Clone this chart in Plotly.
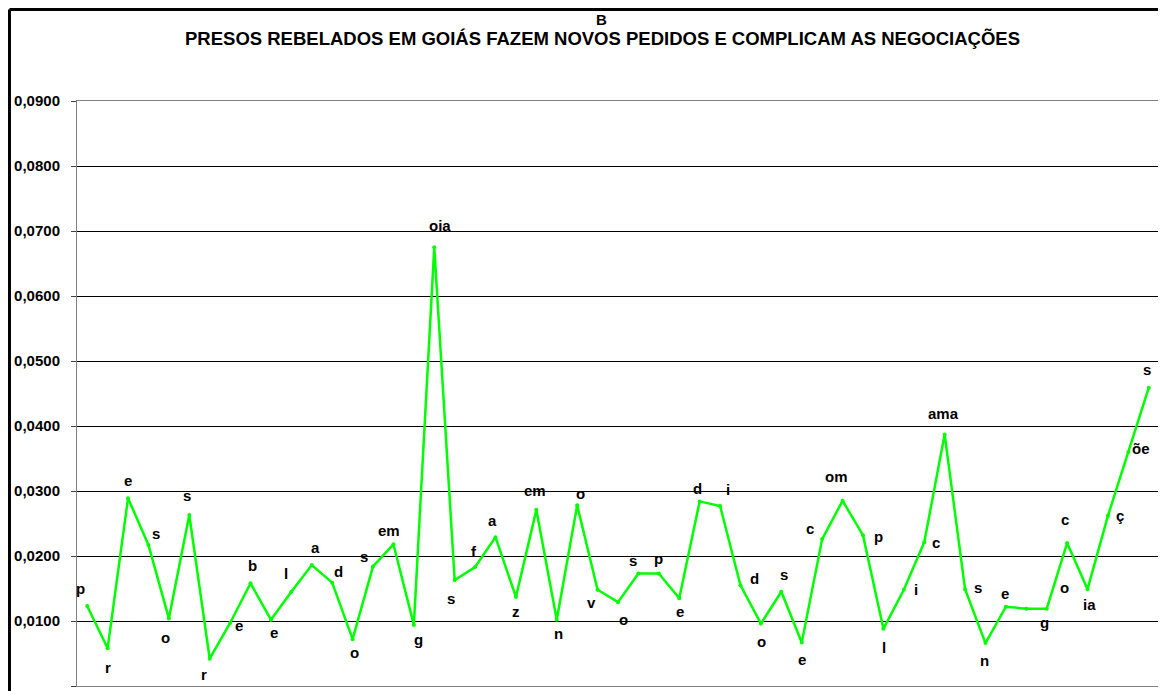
import plotly.graph_objects as go

# ---- data ----
labels = ["p", "r", "e", "s", "o", "s", "r", "e", "b", "e",
          "l", "a", "d", "o", "s", "em", "g", "oia", "s", "f",
          "a", "z", "em", "n", "o", "v", "o", "s", "p", "e",
          "d", "i", "d", "o", "s", "e", "c", "om", "p", "l",
          "i", "c", "ama", "s", "n", "e", "g", "o", "c", "ia",
          "ç", "õe", "s"]
values = [0.0123, 0.0058, 0.0289, 0.0217, 0.0104, 0.0263, 0.0042, 0.0097, 0.0158, 0.0102,
          0.0145, 0.0186, 0.0159, 0.0072, 0.0184, 0.0218, 0.0094, 0.0675, 0.0163, 0.0183,
          0.0229, 0.0137, 0.0271, 0.0102, 0.0278, 0.0148, 0.0129, 0.0173, 0.0173, 0.0135,
          0.0284, 0.0277, 0.0155, 0.0096, 0.0145, 0.0067, 0.0226, 0.0285, 0.0232, 0.0088,
          0.0148, 0.0221, 0.0387, 0.0149, 0.0066, 0.0122, 0.0119, 0.0119, 0.0220, 0.0149,
          0.0262, 0.0360, 0.0459]
positions = list(range(1, len(values) + 1))
y_ticks = [0.00, 0.01, 0.02, 0.03, 0.04, 0.05, 0.06, 0.07, 0.08, 0.09]

title_top = "B"
title_main = "PRESOS REBELADOS EM GOIÁS FAZEM NOVOS PEDIDOS E COMPLICAM AS NEGOCIAÇÕES"

# ---- label offsets (style: pixel shift of each data label from its point) ----
label_shift = [(-7, 18), (0, -19), (0, 18), (8, 11), (-3, -19), (-2, 20), (-6, -16), (9, -3), (2, 18), (3, -13),
               (-5, 18), (4, 18), (6, 11), (2, -13), (-9, 10), (-4, 14), (5, -15), (6, 22), (-4, -18), (-1, 16),
               (-3, 17), (0, -15), (-1, 19), (2, -14), (3, 12), (-6, -13), (5, -17), (-5, 13), (0, 15), (1, -13),
               (-2, 13), (8, 16), (14, 7), (1, -18), (3, 17), (0, -17), (-12, 11), (-6, 24), (16, -1), (1, -19),
               (12, 0), (12, 0), (-1, 21), (13, 2), (-1, -17), (-1, 13), (18, -14), (18, 21), (-2, 24), (2, -15),
               (12, 0), (13, 4), (-2, 18)]

FONT = "Liberation Sans, Arial, sans-serif"
GREEN = "#00FF00"

fig = go.Figure()
fig.add_trace(go.Scatter(
    x=positions, y=values, mode="lines+markers",
    line=dict(color=GREEN, width=2.5),
    marker=dict(color=GREEN, size=4),
    hoverinfo="skip", showlegend=False,
))

annotations = []
for xv, yv, txt, (dx, dy) in zip(positions, values, labels, label_shift):
    annotations.append(dict(
        x=xv, y=yv, xref="x", yref="y", text=f"<b>{txt}</b>", showarrow=False,
        xshift=dx, yshift=dy, xanchor="center", yanchor="middle",
        font=dict(family=FONT, size=15, color="#000000"),
    ))

annotations.append(dict(x=0.485, y=1.156, xref="paper", yref="paper", text=f"<b>{title_top}</b>",
                        showarrow=False, xanchor="center", yanchor="top", borderpad=0,
                        font=dict(family=FONT, size=15, color="#000000")))
annotations.append(dict(x=0.486, y=1.106, xref="paper", yref="paper", text=f"<b>{title_main}</b>",
                        showarrow=False, xanchor="center", yanchor="middle",
                        font=dict(family=FONT, size=18.5, color="#000000")))

fig.update_layout(
    width=1158, height=683,
    margin=dict(l=69, r=7, t=93, b=5),
    paper_bgcolor="#FFFFFF", plot_bgcolor="#FFFFFF",
    separators=",.",
    annotations=annotations,
    shapes=[
        dict(type="line", xref="paper", yref="paper", x0=-0.0624, x1=-0.0624, y0=-0.02, y1=1.1564,
             line=dict(color="#000000", width=3), layer="above"),
        dict(type="line", xref="paper", yref="paper", x0=-0.0624, x1=1.01, y0=1.1564, y1=1.1564,
             line=dict(color="#000000", width=3), layer="above"),
    ],
    xaxis=dict(range=[0.5, len(values) + 0.5], showticklabels=False, showgrid=False, zeroline=False,
               showline=True, linecolor="#808080", linewidth=1, mirror=True, ticks=""),
    yaxis=dict(range=[0, 0.09], tickvals=y_ticks, tickformat=".4f", showgrid=True, gridcolor="#000000",
               gridwidth=1, zeroline=False, showline=True, linecolor="#808080", linewidth=1, mirror=True,
               ticks="outside", ticklen=5, tickcolor="#404040", ticklabelstandoff=8,
               tickfont=dict(family=FONT, size=15, color="#000000", weight="bold")),
)

fig.write_html("out.html")
